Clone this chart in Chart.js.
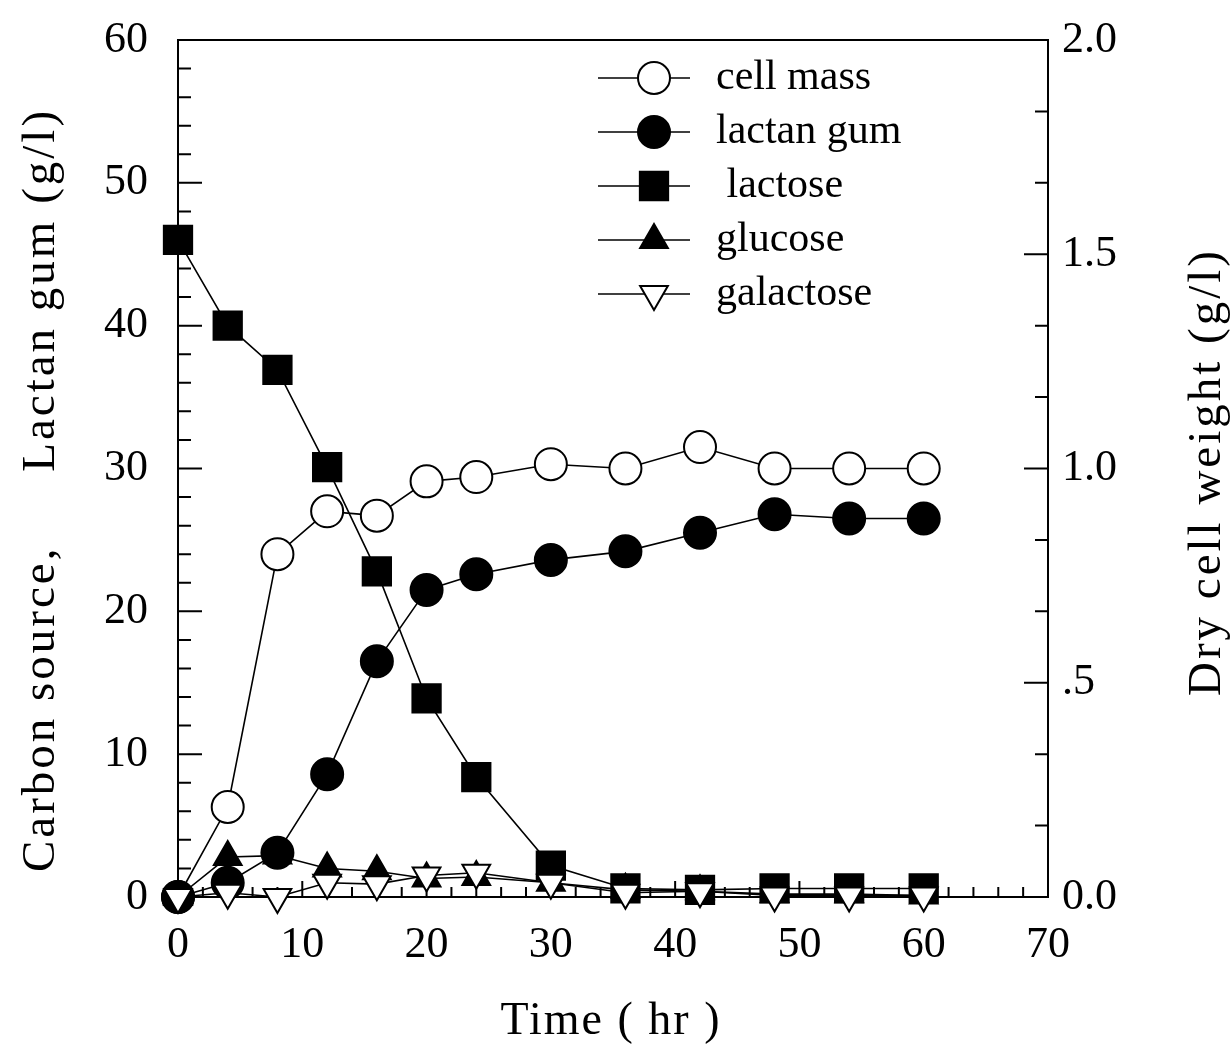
<!DOCTYPE html>
<html>
<head>
<meta charset="utf-8">
<script src="https://cdn.jsdelivr.net/npm/chart.js@4.4.0/dist/chart.umd.min.js"></script>
<style>
  html, body { margin: 0; padding: 0; background: #fff; }
</style>
</head>
<body>
<canvas id="chart" width="1232" height="1050"></canvas>
<script>
// --- DATA ---
const times = [0, 4, 8, 12, 16, 20, 24, 30, 36, 42, 48, 54, 60];
const cellMass = [0.0, 0.21, 0.80, 0.90, 0.89, 0.97, 0.98, 1.01, 1.00, 1.05, 1.00, 1.00, 1.00]; // right axis
const lactanGum = [0.0, 1.0, 3.1, 8.6, 16.5, 21.5, 22.6, 23.6, 24.2, 25.5, 26.8, 26.5, 26.5];
const lactose = [46.0, 40.0, 36.9, 30.1, 22.8, 13.9, 8.4, 2.2, 0.6, 0.5, 0.6, 0.6, 0.6];
const glucose = [0.0, 2.8, 2.9, 2.0, 1.8, 1.3, 1.4, 1.0, 0.5, 0.4, 0.2, 0.2, 0.1];
const galactose = [0.0, 0.3, 0.0, 1.0, 0.9, 1.5, 1.7, 1.0, 0.3, 0.4, 0.1, 0.1, 0.1];

const seriesNames = ['cell mass', 'lactan gum', ' lactose', 'glucose', 'galactose'];
const rightTickLabels = ['0.0', '.5', '1.0', '1.5', '2.0'];
const leftTitle = 'Carbon source,     Lactan gum (g/l)';
const rightTitle = 'Dry cell weight (g/l)';
const xTitle = 'Time ( hr )';

const SERIF = '"Liberation Serif", "DejaVu Serif", serif';
const pts = (ys) => times.map((t, i) => ({ x: t, y: ys[i] }));

const base = { borderColor: '#000', borderWidth: 1.6, pointBorderColor: '#000', pointBorderWidth: 2, clip: false, tension: 0 };

// --- MARKER HELPER (legend) ---
function marker(ctx, ds, x, y) {
  const r = ds.pointRadius;
  ctx.save();
  ctx.fillStyle = ds.pointBackgroundColor;
  ctx.strokeStyle = '#000';
  ctx.lineWidth = 2;
  ctx.beginPath();
  if (ds.pointStyle === 'circle') {
    ctx.arc(x, y, r, 0, Math.PI * 2);
  } else if (ds.pointStyle === 'rect') {
    const s = r * Math.SQRT1_2;
    ctx.rect(x - s, y - s, 2 * s, 2 * s);
  } else {
    const flip = ds.pointRotation === 180 ? -1 : 1;
    const w = r * Math.sqrt(3);
    ctx.moveTo(x, y - flip * r);
    ctx.lineTo(x + w / 2, y + flip * r / 2);
    ctx.lineTo(x - w / 2, y + flip * r / 2);
    ctx.closePath();
  }
  ctx.fill();
  ctx.stroke();
  ctx.restore();
}

function label(ctx, text, x, y, rot, size, spacing) {
  ctx.save();
  ctx.fillStyle = '#000';
  ctx.font = size + 'px ' + SERIF;
  ctx.letterSpacing = spacing + 'px';
  ctx.textAlign = 'center';
  ctx.textBaseline = 'middle';
  ctx.translate(x, y);
  ctx.rotate(rot);
  ctx.fillText(text, 0, 0);
  ctx.restore();
}

// --- FRAME, INWARD TICKS, TITLES, LEGEND ---
const decor = {
  id: 'decor',
  beforeDatasetsDraw(chart) {
    const { ctx, chartArea: a, scales } = chart;
    ctx.save();
    ctx.strokeStyle = '#000';
    ctx.lineWidth = 2;
    ctx.strokeRect(a.left, a.top, a.right - a.left, a.bottom - a.top);
    ctx.beginPath();
    // bottom axis ticks every 2 hr
    for (let v = 0; v <= 70; v += 2) {
      const x = scales.x.getPixelForValue(v);
      const len = v % 10 === 0 ? 16 : 10;
      ctx.moveTo(x, a.bottom); ctx.lineTo(x, a.bottom - len);
    }
    // left axis ticks every 2 g/l
    for (let v = 0; v <= 60; v += 2) {
      const y = scales.y.getPixelForValue(v);
      const len = v % 10 === 0 ? 24 : 13;
      ctx.moveTo(a.left, y); ctx.lineTo(a.left + len, y);
    }
    // right axis ticks
    for (let k = 0; k <= 12; k++) {
      const y = scales.y1.getPixelForValue(k / 6);
      const len = k % 3 === 0 ? 24 : 13;
      ctx.moveTo(a.right, y); ctx.lineTo(a.right - len, y);
    }
    ctx.stroke();
    ctx.restore();

    label(ctx, leftTitle, 42, 490, -Math.PI / 2, 47, 3);
    label(ctx, rightTitle, 1208, 472, -Math.PI / 2, 47, 3);
    label(ctx, xTitle, 611, 1022, 0, 46, 2);
  },
  afterDraw(chart) {
    const { ctx } = chart;
    const x0 = 598, x1 = 690, xm = 654, tx = 716, y0 = 78, dy = 54;
    ctx.save();
    ctx.font = '42px ' + SERIF;
    ctx.textBaseline = 'middle';
    chart.data.datasets.forEach((ds, i) => {
      const y = y0 + i * dy;
      ctx.strokeStyle = '#000';
      ctx.lineWidth = 1.6;
      ctx.beginPath(); ctx.moveTo(x0, y); ctx.lineTo(x1, y); ctx.stroke();
      marker(ctx, ds, xm, y);
      ctx.fillStyle = '#000';
      ctx.fillText(ds.label, tx, y);
    });
    ctx.restore();
  }
};

const tickFont = { family: SERIF, size: 44 };
const fixY = (w) => (s) => { s.width = w; s.paddingTop = 0; s.paddingBottom = 0; };

new Chart(document.getElementById('chart'), {
  type: 'line',
  data: {
    datasets: [
      { ...base, label: seriesNames[0], order: 4, data: pts(cellMass), yAxisID: 'y1', pointStyle: 'circle', pointRadius: 16, pointBackgroundColor: '#fff' },
      { ...base, label: seriesNames[1], order: 1, data: pts(lactanGum), yAxisID: 'y', pointStyle: 'circle', pointRadius: 16, pointBackgroundColor: '#000' },
      { ...base, label: seriesNames[2], order: 3, data: pts(lactose), yAxisID: 'y', pointStyle: 'rect', pointRadius: 20, pointBackgroundColor: '#000' },
      { ...base, label: seriesNames[3], order: 2, data: pts(glucose), yAxisID: 'y', pointStyle: 'triangle', pointRadius: 16, pointBackgroundColor: '#000' },
      { ...base, label: seriesNames[4], order: 0, data: pts(galactose), yAxisID: 'y', pointStyle: 'triangle', pointRotation: 180, pointRadius: 16, pointBackgroundColor: '#fff' }
    ]
  },
  options: {
    responsive: false,
    animation: false,
    devicePixelRatio: 1,
    layout: { padding: { top: 40, left: 0, right: 0, bottom: 0 } },
    plugins: { legend: { display: false }, tooltip: { enabled: false } },
    scales: {
      x: {
        type: 'linear', min: 0, max: 70,
        grid: { display: false, drawTicks: false },
        border: { display: false },
        ticks: { stepSize: 10, color: '#000', font: tickFont, padding: 22, maxRotation: 0 },
        afterFit: (s) => { s.height = 153; s.paddingLeft = 0; s.paddingRight = 0; }
      },
      y: {
        position: 'left', min: 0, max: 60,
        grid: { display: false, drawTicks: false },
        border: { display: false },
        ticks: { stepSize: 10, color: '#000', font: tickFont, padding: 30 },
        afterFit: fixY(178)
      },
      y1: {
        position: 'right', min: 0, max: 2,
        grid: { display: false, drawTicks: false },
        border: { display: false },
        ticks: { stepSize: 0.5, color: '#000', font: tickFont, padding: 14,
          callback: (v, i) => rightTickLabels[i] },
        afterFit: fixY(184)
      }
    }
  },
  plugins: [decor]
});
</script>
</body>
</html>
